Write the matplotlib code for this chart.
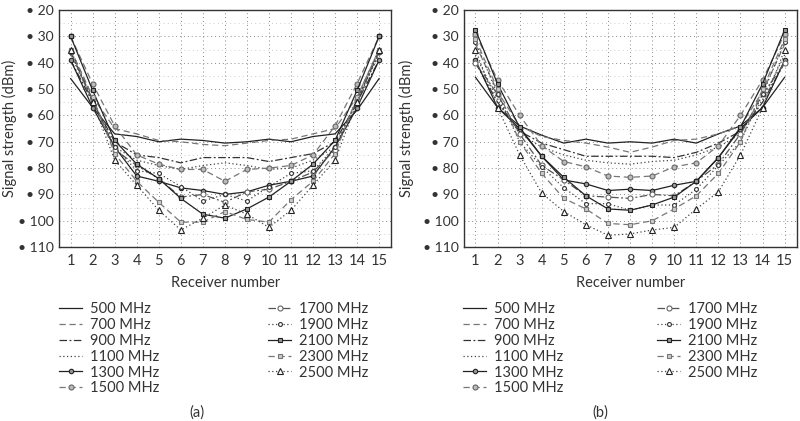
import numpy as np
import matplotlib
matplotlib.use("Agg")
import matplotlib.pyplot as plt

plt.rcParams['font.family'] = ['Lato', 'DejaVu Sans']

receivers = list(range(1, 16))
freq_labels = ['500 MHz', '700 MHz', '900 MHz', '1100 MHz', '1300 MHz', '1500 MHz',
               '1700 MHz', '1900 MHz', '2100 MHz', '2300 MHz', '2500 MHz']

# panel (a)
a_500 = [46, 57, 67, 68, 70, 69, 69.5, 70.5, 70, 69, 70, 68, 67, 58, 46]
a_700 = [35, 53, 65, 67, 69.5, 70, 71, 71.5, 70.5, 69.5, 69, 67, 65, 53, 35]
a_900 = [39, 55, 70, 75, 76, 78, 76, 76, 76, 77.5, 76, 74.5, 70, 55, 39]
a_1100 = [37, 54, 72, 77, 79, 80.5, 79, 78, 79, 80.5, 80, 77, 72, 54, 37]
a_1300 = [39, 57, 72, 83, 85, 87.5, 88.5, 90, 89, 86.5, 85, 83, 72, 57, 39]
a_1500 = [30, 48, 64, 75, 78.5, 80.5, 80.5, 85, 80.5, 80, 79, 75, 64, 48, 30]
a_1700 = [36, 54, 73, 79, 84, 91, 90, 93, 89, 88, 85, 81.5, 73, 54, 36]
a_1900 = [36, 55, 72, 81, 82, 87, 92.5, 90, 92.5, 87, 82, 81, 72, 55, 36]
a_2100 = [30, 50.5, 69.5, 78.5, 84, 91.5, 97.5, 99, 95.5, 91, 85, 78.5, 69.5, 50.5, 30]
a_2300 = [35, 53, 74.5, 85, 93, 100.5, 100.5, 96.5, 99.5, 100.5, 92, 85, 74.5, 53, 35]
a_2500 = [35, 55, 77, 86.5, 96, 103.5, 99, 94, 97.5, 102.5, 96, 86.5, 77, 55, 35]

# panel (b)
b_500 = [45.5, 57, 64, 67.5, 70.5, 69, 70.5, 70, 70.5, 69, 70.5, 67, 64, 57, 45.5]
b_700 = [33, 51, 64, 68, 69.5, 70.5, 72, 74, 72, 69.5, 69, 67, 64, 51, 33]
b_900 = [40, 55, 66, 70.5, 73, 75.5, 75.5, 75.5, 75.5, 76, 74, 70.5, 66, 55, 40]
b_1100 = [37, 54, 67, 72, 75, 77, 78, 78.5, 77.5, 77, 75, 72, 67, 54, 37]
b_1300 = [39, 57, 65, 75.5, 84.5, 86, 88.5, 88, 88.5, 86.5, 85, 76, 65, 57, 39]
b_1500 = [29, 46.5, 60, 71.5, 77.5, 79.5, 83, 83.5, 83, 79.5, 78, 71.5, 60, 46.5, 29]
b_1700 = [40, 52, 67, 79, 84.5, 90.5, 91, 91.5, 90, 90.5, 85, 78.5, 67, 52, 40]
b_1900 = [32, 52, 70, 79.5, 87.5, 93.5, 93.5, 96, 94, 94, 88, 79, 70, 52, 32]
b_2100 = [27.5, 48, 64.5, 75.5, 83.5, 90.5, 95.5, 96, 94, 91, 85, 76, 64.5, 48, 27.5]
b_2300 = [31, 50, 70, 82, 91.5, 95.5, 101, 101.5, 100, 95.5, 90.5, 82, 70, 50, 31]
b_2500 = [35, 57, 75, 89.5, 96.5, 101.5, 105.5, 105, 103.5, 102.5, 95.5, 89, 75, 57, 35]

series_a = [a_500, a_700, a_900, a_1100, a_1300, a_1500, a_1700, a_1900, a_2100, a_2300, a_2500]
series_b = [b_500, b_700, b_900, b_1100, b_1300, b_1500, b_1700, b_1900, b_2100, b_2300, b_2500]

# line style per frequency: (linestyle, color, marker, markersize, facecolor, edgecolor)
styles = [
    ('-', '#222222', None, 0, None, None),
    ((0, (5, 3)), '#777777', None, 0, None, None),
    ((0, (6, 2, 1.5, 2)), '#333333', None, 0, None, None),
    ((0, (1, 2)), '#444444', None, 0, None, None),
    ('-', '#222222', 'o', 3.2, '#999999', '#222222'),
    ((0, (5, 3)), '#777777', 'o', 3.6, '#bbbbbb', '#666666'),
    ((0, (6, 2, 1.5, 2)), '#555555', 'o', 3.6, 'white', '#666666'),
    ((0, (1, 2)), '#444444', 'o', 2.8, 'white', '#333333'),
    ('-', '#222222', 's', 3.4, '#999999', '#222222'),
    ((0, (5, 3)), '#777777', 's', 3.4, '#cccccc', '#777777'),
    ((0, (1, 2)), '#444444', '^', 4, 'white', '#222222'),
]

fig = plt.figure(figsize=(8, 4.21), dpi=100)
ax_a = fig.add_axes([0.074, 0.413, 0.415, 0.563])
ax_b = fig.add_axes([0.58, 0.413, 0.416, 0.563])

yticks = list(range(20, 111, 10))

for ax, series, leg_x, col2_x, tag, tag_x, ylab_x in [
        (ax_a, series_a, 59, 268, '(a)', 197, -0.128),
        (ax_b, series_b, 463, 657, '(b)', 600, -0.15)]:
    handles = []
    for vals, lab, st in zip(series, freq_labels, styles):
        ls, col, mk, ms, mfc, mec = st
        h, = ax.plot(receivers, vals, linestyle=ls, color=col, lw=0.9,
                     marker=mk, markersize=ms, markerfacecolor=mfc,
                     markeredgecolor=mec, markeredgewidth=0.8, label=lab)
        handles.append(h)
    ax.set_xlim(0.48, 15.55)
    ax.set_ylim(110, 20)
    ax.set_xticks(receivers)
    ax.set_yticks(yticks)
    ax.set_yticklabels(['\u2022 %d' % v for v in yticks])
    ax.set_yticks(list(range(25, 110, 10)), minor=True)
    ax.tick_params(length=0, labelsize=10.5, colors='#333333', pad=5)
    ax.tick_params(axis='y', labelsize=10, pad=4)
    ax.tick_params(which='minor', length=0)
    ax.grid(True, which='major', linestyle=(0, (1, 3)), color='#888888', lw=0.7)
    ax.grid(True, which='minor', axis='y', linestyle=(0, (1, 4)), color='#bbbbbb', lw=0.6)
    for sp in ax.spines.values():
        sp.set_color('#333333')
        sp.set_linewidth(1)
    ax.set_xlabel('Receiver number', fontsize=10.5, color='#333333', labelpad=6)
    ax.set_ylabel('Signal strength (dBm)', fontsize=10.5, color='#333333')
    ax.yaxis.set_label_coords(ylab_x, 0.5)

    leg_kw = dict(loc='upper left', bbox_transform=fig.transFigure, frameon=False,
                  fontsize=10.5, handlelength=1.6, handletextpad=0.5, labelspacing=0.13,
                  borderpad=0, borderaxespad=0, labelcolor='#333333')
    leg1 = ax.legend(handles[:6], freq_labels[:6],
                     bbox_to_anchor=(leg_x / 800, 1 - 302 / 421), **leg_kw)
    ax.add_artist(leg1)
    ax.legend(handles[6:], freq_labels[6:],
              bbox_to_anchor=(col2_x / 800, 1 - 302 / 421), **leg_kw)
    fig.text(tag_x / 800, 1 - 413 / 421, tag, ha='center', va='center',
             fontsize=10.5, color='#333333')

fig.savefig('out.png', dpi=100)
